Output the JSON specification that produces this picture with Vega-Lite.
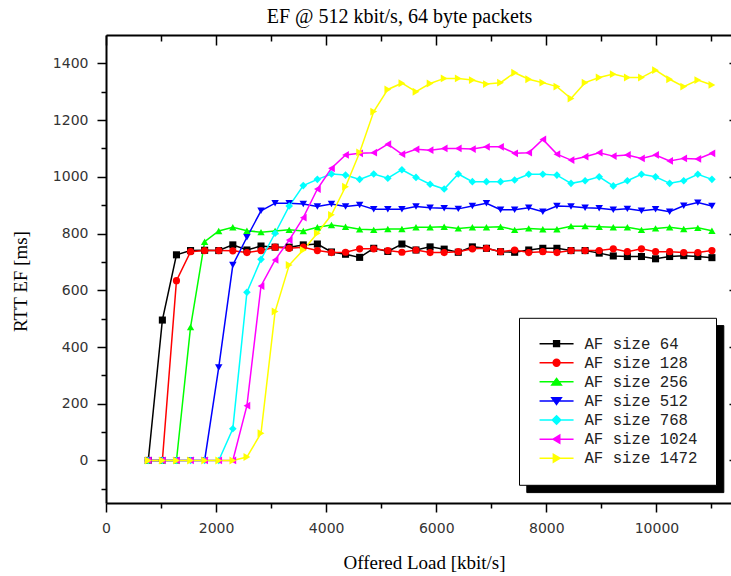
{
  "$schema": "https://vega.github.io/schema/vega-lite/v6.json",
  "width": 633,
  "height": 468,
  "autosize": {"type": "none"},
  "padding": {"left": 106, "top": 35, "right": -8, "bottom": 73},
  "background": "white",
  "title": {
    "text": "EF @ 512 kbit/s, 64 byte packets",
    "font": "Liberation Serif",
    "fontSize": 20,
    "fontWeight": "normal",
    "color": "black",
    "anchor": "middle",
    "dx": -23,
    "dy": 21,
    "offset": 12,
    "baseline": "alphabetic"
  },
  "config": {"view": {"stroke": null}, "axis": {"grid": false}},
  "data": {
    "values": [
      {"series": "AF size 64", "load": 768, "rtt": 0},
      {"series": "AF size 64", "load": 1024, "rtt": 495},
      {"series": "AF size 64", "load": 1280, "rtt": 725},
      {"series": "AF size 64", "load": 1536, "rtt": 740},
      {"series": "AF size 64", "load": 1792, "rtt": 741},
      {"series": "AF size 64", "load": 2048, "rtt": 740},
      {"series": "AF size 64", "load": 2304, "rtt": 760},
      {"series": "AF size 64", "load": 2560, "rtt": 742},
      {"series": "AF size 64", "load": 2816, "rtt": 756},
      {"series": "AF size 64", "load": 3072, "rtt": 752},
      {"series": "AF size 64", "load": 3328, "rtt": 752},
      {"series": "AF size 64", "load": 3584, "rtt": 760},
      {"series": "AF size 64", "load": 3840, "rtt": 763},
      {"series": "AF size 64", "load": 4096, "rtt": 735},
      {"series": "AF size 64", "load": 4352, "rtt": 727},
      {"series": "AF size 64", "load": 4608, "rtt": 716},
      {"series": "AF size 64", "load": 4864, "rtt": 748},
      {"series": "AF size 64", "load": 5120, "rtt": 737},
      {"series": "AF size 64", "load": 5376, "rtt": 763},
      {"series": "AF size 64", "load": 5632, "rtt": 742},
      {"series": "AF size 64", "load": 5888, "rtt": 753},
      {"series": "AF size 64", "load": 6144, "rtt": 745},
      {"series": "AF size 64", "load": 6400, "rtt": 734},
      {"series": "AF size 64", "load": 6656, "rtt": 753},
      {"series": "AF size 64", "load": 6912, "rtt": 748},
      {"series": "AF size 64", "load": 7168, "rtt": 736},
      {"series": "AF size 64", "load": 7424, "rtt": 734},
      {"series": "AF size 64", "load": 7680, "rtt": 742},
      {"series": "AF size 64", "load": 7936, "rtt": 748},
      {"series": "AF size 64", "load": 8192, "rtt": 748},
      {"series": "AF size 64", "load": 8448, "rtt": 740},
      {"series": "AF size 64", "load": 8704, "rtt": 740},
      {"series": "AF size 64", "load": 8960, "rtt": 731},
      {"series": "AF size 64", "load": 9216, "rtt": 721},
      {"series": "AF size 64", "load": 9472, "rtt": 719},
      {"series": "AF size 64", "load": 9728, "rtt": 719},
      {"series": "AF size 64", "load": 9984, "rtt": 711},
      {"series": "AF size 64", "load": 10240, "rtt": 719},
      {"series": "AF size 64", "load": 10496, "rtt": 722},
      {"series": "AF size 64", "load": 10752, "rtt": 719},
      {"series": "AF size 64", "load": 11008, "rtt": 715},

      {"series": "AF size 128", "load": 768, "rtt": 0},
      {"series": "AF size 128", "load": 1024, "rtt": 0},
      {"series": "AF size 128", "load": 1280, "rtt": 634},
      {"series": "AF size 128", "load": 1536, "rtt": 736},
      {"series": "AF size 128", "load": 1792, "rtt": 740},
      {"series": "AF size 128", "load": 2048, "rtt": 740},
      {"series": "AF size 128", "load": 2304, "rtt": 739},
      {"series": "AF size 128", "load": 2560, "rtt": 733},
      {"series": "AF size 128", "load": 2816, "rtt": 740},
      {"series": "AF size 128", "load": 3072, "rtt": 752},
      {"series": "AF size 128", "load": 3328, "rtt": 748},
      {"series": "AF size 128", "load": 3584, "rtt": 752},
      {"series": "AF size 128", "load": 3840, "rtt": 740},
      {"series": "AF size 128", "load": 4096, "rtt": 733},
      {"series": "AF size 128", "load": 4352, "rtt": 734},
      {"series": "AF size 128", "load": 4608, "rtt": 746},
      {"series": "AF size 128", "load": 4864, "rtt": 746},
      {"series": "AF size 128", "load": 5120, "rtt": 740},
      {"series": "AF size 128", "load": 5376, "rtt": 734},
      {"series": "AF size 128", "load": 5632, "rtt": 742},
      {"series": "AF size 128", "load": 5888, "rtt": 733},
      {"series": "AF size 128", "load": 6144, "rtt": 733},
      {"series": "AF size 128", "load": 6400, "rtt": 736},
      {"series": "AF size 128", "load": 6656, "rtt": 746},
      {"series": "AF size 128", "load": 6912, "rtt": 748},
      {"series": "AF size 128", "load": 7168, "rtt": 736},
      {"series": "AF size 128", "load": 7424, "rtt": 742},
      {"series": "AF size 128", "load": 7680, "rtt": 733},
      {"series": "AF size 128", "load": 7936, "rtt": 736},
      {"series": "AF size 128", "load": 8192, "rtt": 733},
      {"series": "AF size 128", "load": 8448, "rtt": 740},
      {"series": "AF size 128", "load": 8704, "rtt": 740},
      {"series": "AF size 128", "load": 8960, "rtt": 740},
      {"series": "AF size 128", "load": 9216, "rtt": 746},
      {"series": "AF size 128", "load": 9472, "rtt": 736},
      {"series": "AF size 128", "load": 9728, "rtt": 746},
      {"series": "AF size 128", "load": 9984, "rtt": 736},
      {"series": "AF size 128", "load": 10240, "rtt": 736},
      {"series": "AF size 128", "load": 10496, "rtt": 733},
      {"series": "AF size 128", "load": 10752, "rtt": 733},
      {"series": "AF size 128", "load": 11008, "rtt": 740},

      {"series": "AF size 256", "load": 768, "rtt": 0},
      {"series": "AF size 256", "load": 1024, "rtt": 0},
      {"series": "AF size 256", "load": 1280, "rtt": 0},
      {"series": "AF size 256", "load": 1536, "rtt": 470},
      {"series": "AF size 256", "load": 1792, "rtt": 771},
      {"series": "AF size 256", "load": 2048, "rtt": 809},
      {"series": "AF size 256", "load": 2304, "rtt": 822},
      {"series": "AF size 256", "load": 2560, "rtt": 810},
      {"series": "AF size 256", "load": 2816, "rtt": 805},
      {"series": "AF size 256", "load": 3072, "rtt": 809},
      {"series": "AF size 256", "load": 3328, "rtt": 813},
      {"series": "AF size 256", "load": 3584, "rtt": 809},
      {"series": "AF size 256", "load": 3840, "rtt": 822},
      {"series": "AF size 256", "load": 4096, "rtt": 830},
      {"series": "AF size 256", "load": 4352, "rtt": 824},
      {"series": "AF size 256", "load": 4608, "rtt": 815},
      {"series": "AF size 256", "load": 4864, "rtt": 813},
      {"series": "AF size 256", "load": 5120, "rtt": 816},
      {"series": "AF size 256", "load": 5376, "rtt": 816},
      {"series": "AF size 256", "load": 5632, "rtt": 822},
      {"series": "AF size 256", "load": 5888, "rtt": 822},
      {"series": "AF size 256", "load": 6144, "rtt": 824},
      {"series": "AF size 256", "load": 6400, "rtt": 818},
      {"series": "AF size 256", "load": 6656, "rtt": 822},
      {"series": "AF size 256", "load": 6912, "rtt": 822},
      {"series": "AF size 256", "load": 7168, "rtt": 824},
      {"series": "AF size 256", "load": 7424, "rtt": 813},
      {"series": "AF size 256", "load": 7680, "rtt": 818},
      {"series": "AF size 256", "load": 7936, "rtt": 815},
      {"series": "AF size 256", "load": 8192, "rtt": 815},
      {"series": "AF size 256", "load": 8448, "rtt": 826},
      {"series": "AF size 256", "load": 8704, "rtt": 826},
      {"series": "AF size 256", "load": 8960, "rtt": 824},
      {"series": "AF size 256", "load": 9216, "rtt": 822},
      {"series": "AF size 256", "load": 9472, "rtt": 822},
      {"series": "AF size 256", "load": 9728, "rtt": 813},
      {"series": "AF size 256", "load": 9984, "rtt": 818},
      {"series": "AF size 256", "load": 10240, "rtt": 822},
      {"series": "AF size 256", "load": 10496, "rtt": 816},
      {"series": "AF size 256", "load": 10752, "rtt": 820},
      {"series": "AF size 256", "load": 11008, "rtt": 810},

      {"series": "AF size 512", "load": 768, "rtt": 0},
      {"series": "AF size 512", "load": 1024, "rtt": 0},
      {"series": "AF size 512", "load": 1280, "rtt": 0},
      {"series": "AF size 512", "load": 1536, "rtt": 0},
      {"series": "AF size 512", "load": 1792, "rtt": 0},
      {"series": "AF size 512", "load": 2048, "rtt": 328},
      {"series": "AF size 512", "load": 2304, "rtt": 689},
      {"series": "AF size 512", "load": 2560, "rtt": 787},
      {"series": "AF size 512", "load": 2816, "rtt": 880},
      {"series": "AF size 512", "load": 3072, "rtt": 907},
      {"series": "AF size 512", "load": 3328, "rtt": 907},
      {"series": "AF size 512", "load": 3584, "rtt": 904},
      {"series": "AF size 512", "load": 3840, "rtt": 895},
      {"series": "AF size 512", "load": 4096, "rtt": 904},
      {"series": "AF size 512", "load": 4352, "rtt": 895},
      {"series": "AF size 512", "load": 4608, "rtt": 901},
      {"series": "AF size 512", "load": 4864, "rtt": 886},
      {"series": "AF size 512", "load": 5120, "rtt": 886},
      {"series": "AF size 512", "load": 5376, "rtt": 886},
      {"series": "AF size 512", "load": 5632, "rtt": 895},
      {"series": "AF size 512", "load": 5888, "rtt": 891},
      {"series": "AF size 512", "load": 6144, "rtt": 889},
      {"series": "AF size 512", "load": 6400, "rtt": 887},
      {"series": "AF size 512", "load": 6656, "rtt": 897},
      {"series": "AF size 512", "load": 6912, "rtt": 907},
      {"series": "AF size 512", "load": 7168, "rtt": 884},
      {"series": "AF size 512", "load": 7424, "rtt": 884},
      {"series": "AF size 512", "load": 7680, "rtt": 891},
      {"series": "AF size 512", "load": 7936, "rtt": 877},
      {"series": "AF size 512", "load": 8192, "rtt": 897},
      {"series": "AF size 512", "load": 8448, "rtt": 895},
      {"series": "AF size 512", "load": 8704, "rtt": 891},
      {"series": "AF size 512", "load": 8960, "rtt": 889},
      {"series": "AF size 512", "load": 9216, "rtt": 884},
      {"series": "AF size 512", "load": 9472, "rtt": 887},
      {"series": "AF size 512", "load": 9728, "rtt": 880},
      {"series": "AF size 512", "load": 9984, "rtt": 886},
      {"series": "AF size 512", "load": 10240, "rtt": 877},
      {"series": "AF size 512", "load": 10496, "rtt": 898},
      {"series": "AF size 512", "load": 10752, "rtt": 909},
      {"series": "AF size 512", "load": 11008, "rtt": 897},

      {"series": "AF size 768", "load": 768, "rtt": 0},
      {"series": "AF size 768", "load": 1024, "rtt": 0},
      {"series": "AF size 768", "load": 1280, "rtt": 0},
      {"series": "AF size 768", "load": 1536, "rtt": 0},
      {"series": "AF size 768", "load": 1792, "rtt": 0},
      {"series": "AF size 768", "load": 2048, "rtt": 0},
      {"series": "AF size 768", "load": 2304, "rtt": 112},
      {"series": "AF size 768", "load": 2560, "rtt": 593},
      {"series": "AF size 768", "load": 2816, "rtt": 709},
      {"series": "AF size 768", "load": 3072, "rtt": 801},
      {"series": "AF size 768", "load": 3328, "rtt": 897},
      {"series": "AF size 768", "load": 3584, "rtt": 969},
      {"series": "AF size 768", "load": 3840, "rtt": 991},
      {"series": "AF size 768", "load": 4096, "rtt": 1010},
      {"series": "AF size 768", "load": 4352, "rtt": 1006},
      {"series": "AF size 768", "load": 4608, "rtt": 991},
      {"series": "AF size 768", "load": 4864, "rtt": 1010},
      {"series": "AF size 768", "load": 5120, "rtt": 995},
      {"series": "AF size 768", "load": 5376, "rtt": 1025},
      {"series": "AF size 768", "load": 5632, "rtt": 998},
      {"series": "AF size 768", "load": 5888, "rtt": 974},
      {"series": "AF size 768", "load": 6144, "rtt": 957},
      {"series": "AF size 768", "load": 6400, "rtt": 1010},
      {"series": "AF size 768", "load": 6656, "rtt": 983},
      {"series": "AF size 768", "load": 6912, "rtt": 983},
      {"series": "AF size 768", "load": 7168, "rtt": 983},
      {"series": "AF size 768", "load": 7424, "rtt": 989},
      {"series": "AF size 768", "load": 7680, "rtt": 1009},
      {"series": "AF size 768", "load": 7936, "rtt": 1009},
      {"series": "AF size 768", "load": 8192, "rtt": 1006},
      {"series": "AF size 768", "load": 8448, "rtt": 977},
      {"series": "AF size 768", "load": 8704, "rtt": 986},
      {"series": "AF size 768", "load": 8960, "rtt": 1000},
      {"series": "AF size 768", "load": 9216, "rtt": 968},
      {"series": "AF size 768", "load": 9472, "rtt": 986},
      {"series": "AF size 768", "load": 9728, "rtt": 1009},
      {"series": "AF size 768", "load": 9984, "rtt": 1000},
      {"series": "AF size 768", "load": 10240, "rtt": 977},
      {"series": "AF size 768", "load": 10496, "rtt": 986},
      {"series": "AF size 768", "load": 10752, "rtt": 1009},
      {"series": "AF size 768", "load": 11008, "rtt": 991},

      {"series": "AF size 1024", "load": 768, "rtt": 0},
      {"series": "AF size 1024", "load": 1024, "rtt": 0},
      {"series": "AF size 1024", "load": 1280, "rtt": 0},
      {"series": "AF size 1024", "load": 1536, "rtt": 0},
      {"series": "AF size 1024", "load": 1792, "rtt": 0},
      {"series": "AF size 1024", "load": 2048, "rtt": 0},
      {"series": "AF size 1024", "load": 2304, "rtt": 0},
      {"series": "AF size 1024", "load": 2560, "rtt": 193},
      {"series": "AF size 1024", "load": 2816, "rtt": 615},
      {"series": "AF size 1024", "load": 3072, "rtt": 707},
      {"series": "AF size 1024", "load": 3328, "rtt": 777},
      {"series": "AF size 1024", "load": 3584, "rtt": 856},
      {"series": "AF size 1024", "load": 3840, "rtt": 957},
      {"series": "AF size 1024", "load": 4096, "rtt": 1030},
      {"series": "AF size 1024", "load": 4352, "rtt": 1077},
      {"series": "AF size 1024", "load": 4608, "rtt": 1083},
      {"series": "AF size 1024", "load": 4864, "rtt": 1085},
      {"series": "AF size 1024", "load": 5120, "rtt": 1115},
      {"series": "AF size 1024", "load": 5376, "rtt": 1080},
      {"series": "AF size 1024", "load": 5632, "rtt": 1097},
      {"series": "AF size 1024", "load": 5888, "rtt": 1094},
      {"series": "AF size 1024", "load": 6144, "rtt": 1100},
      {"series": "AF size 1024", "load": 6400, "rtt": 1100},
      {"series": "AF size 1024", "load": 6656, "rtt": 1098},
      {"series": "AF size 1024", "load": 6912, "rtt": 1106},
      {"series": "AF size 1024", "load": 7168, "rtt": 1106},
      {"series": "AF size 1024", "load": 7424, "rtt": 1083},
      {"series": "AF size 1024", "load": 7680, "rtt": 1085},
      {"series": "AF size 1024", "load": 7936, "rtt": 1132},
      {"series": "AF size 1024", "load": 8192, "rtt": 1080},
      {"series": "AF size 1024", "load": 8448, "rtt": 1059},
      {"series": "AF size 1024", "load": 8704, "rtt": 1071},
      {"series": "AF size 1024", "load": 8960, "rtt": 1085},
      {"series": "AF size 1024", "load": 9216, "rtt": 1073},
      {"series": "AF size 1024", "load": 9472, "rtt": 1077},
      {"series": "AF size 1024", "load": 9728, "rtt": 1065},
      {"series": "AF size 1024", "load": 9984, "rtt": 1077},
      {"series": "AF size 1024", "load": 10240, "rtt": 1056},
      {"series": "AF size 1024", "load": 10496, "rtt": 1065},
      {"series": "AF size 1024", "load": 10752, "rtt": 1063},
      {"series": "AF size 1024", "load": 11008, "rtt": 1083},

      {"series": "AF size 1472", "load": 768, "rtt": 0},
      {"series": "AF size 1472", "load": 1024, "rtt": 0},
      {"series": "AF size 1472", "load": 1280, "rtt": 0},
      {"series": "AF size 1472", "load": 1536, "rtt": 0},
      {"series": "AF size 1472", "load": 1792, "rtt": 0},
      {"series": "AF size 1472", "load": 2048, "rtt": 0},
      {"series": "AF size 1472", "load": 2304, "rtt": 0},
      {"series": "AF size 1472", "load": 2560, "rtt": 12},
      {"series": "AF size 1472", "load": 2816, "rtt": 96},
      {"series": "AF size 1472", "load": 3072, "rtt": 525},
      {"series": "AF size 1472", "load": 3328, "rtt": 689},
      {"series": "AF size 1472", "load": 3584, "rtt": 742},
      {"series": "AF size 1472", "load": 3840, "rtt": 801},
      {"series": "AF size 1472", "load": 4096, "rtt": 866},
      {"series": "AF size 1472", "load": 4352, "rtt": 965},
      {"series": "AF size 1472", "load": 4608, "rtt": 1086},
      {"series": "AF size 1472", "load": 4864, "rtt": 1230},
      {"series": "AF size 1472", "load": 5120, "rtt": 1308},
      {"series": "AF size 1472", "load": 5376, "rtt": 1330},
      {"series": "AF size 1472", "load": 5632, "rtt": 1300},
      {"series": "AF size 1472", "load": 5888, "rtt": 1329},
      {"series": "AF size 1472", "load": 6144, "rtt": 1347},
      {"series": "AF size 1472", "load": 6400, "rtt": 1347},
      {"series": "AF size 1472", "load": 6656, "rtt": 1341},
      {"series": "AF size 1472", "load": 6912, "rtt": 1327},
      {"series": "AF size 1472", "load": 7168, "rtt": 1332},
      {"series": "AF size 1472", "load": 7424, "rtt": 1367},
      {"series": "AF size 1472", "load": 7680, "rtt": 1344},
      {"series": "AF size 1472", "load": 7936, "rtt": 1332},
      {"series": "AF size 1472", "load": 8192, "rtt": 1318},
      {"series": "AF size 1472", "load": 8448, "rtt": 1276},
      {"series": "AF size 1472", "load": 8704, "rtt": 1332},
      {"series": "AF size 1472", "load": 8960, "rtt": 1350},
      {"series": "AF size 1472", "load": 9216, "rtt": 1362},
      {"series": "AF size 1472", "load": 9472, "rtt": 1350},
      {"series": "AF size 1472", "load": 9728, "rtt": 1350},
      {"series": "AF size 1472", "load": 9984, "rtt": 1376},
      {"series": "AF size 1472", "load": 10240, "rtt": 1344},
      {"series": "AF size 1472", "load": 10496, "rtt": 1318},
      {"series": "AF size 1472", "load": 10752, "rtt": 1341},
      {"series": "AF size 1472", "load": 11008, "rtt": 1324}
    ]
  },
  "layer": [
    {
      "mark": {"type": "line", "strokeWidth": 1.5},
      "encoding": {
        "x": {
          "field": "load", "type": "quantitative",
          "scale": {"domain": [0, 11500], "nice": false, "zero": false},
          "axis": {
            "orient": "bottom",
            "values": [0, 1000, 2000, 3000, 4000, 5000, 6000, 7000, 8000, 9000, 10000, 11000],
            "format": "d",
            "labelExpr": "datum.value % 2000 === 0 ? datum.label : ''",
            "labelFont": "DejaVu Sans", "labelFontSize": 14, "labelColor": "#333333",
            "labelPadding": 9, "labelOverlap": false, "labelFlush": false,
            "tickSize": {"condition": {"test": "datum.value % 2000 === 0", "value": 9}, "value": 5},
            "tickWidth": 1.5, "tickColor": "black",
            "domainColor": "black", "domainWidth": 2,
            "title": "Offered Load [kbit/s]",
            "titleFont": "Liberation Serif", "titleFontSize": 19, "titleFontWeight": "normal",
            "titleColor": "black", "titleX": 318, "titleY": 65,
            "titleBaseline": "alphabetic", "titleAlign": "center"
          }
        },
        "y": {
          "field": "rtt", "type": "quantitative",
          "scale": {"domain": [-150, 1500], "nice": false, "zero": false},
          "axis": {
            "orient": "left",
            "values": [-100, 0, 100, 200, 300, 400, 500, 600, 700, 800, 900, 1000, 1100, 1200, 1300, 1400],
            "format": "d",
            "labelExpr": "datum.value >= 0 && datum.value % 200 === 0 ? datum.label : ''",
            "labelFont": "DejaVu Sans", "labelFontSize": 14, "labelColor": "#333333",
            "labelPadding": 9, "labelOverlap": false, "labelFlush": false,
            "tickSize": {"condition": {"test": "datum.value % 200 === 0", "value": 9}, "value": 5},
            "tickWidth": 1.5, "tickColor": "black",
            "domainColor": "black", "domainWidth": 2,
            "title": "RTT EF [ms]",
            "titleFont": "Liberation Serif", "titleFontSize": 19, "titleFontWeight": "normal",
            "titleColor": "black", "titleAngle": -90, "titleX": -80, "titleY": 246,
            "titleBaseline": "alphabetic", "titleAlign": "center"
          }
        },
        "color": {
          "field": "series", "type": "nominal",
          "scale": {
            "domain": ["AF size 64", "AF size 128", "AF size 256", "AF size 512", "AF size 768", "AF size 1024", "AF size 1472"],
            "range": ["#000000", "#ff0000", "#00ff00", "#0000ff", "#00ffff", "#ff00ff", "#ffff00"]
          },
          "legend": null
        }
      }
    },
    {
      "mark": {"type": "point", "filled": true, "opacity": 1, "strokeWidth": 0},
      "encoding": {
        "x": {
          "field": "load", "type": "quantitative",
          "scale": {"domain": [0, 11500], "nice": false, "zero": false},
          "axis": {
            "orient": "top",
            "values": [0, 1000, 2000, 3000, 4000, 5000, 6000, 7000, 8000, 9000, 10000, 11000],
            "labels": false,
            "tickSize": {"condition": {"test": "datum.value % 2000 === 0", "value": -10}, "value": -6},
            "tickWidth": 1.5, "tickColor": "black",
            "domainColor": "black", "domainWidth": 2,
            "title": null
          }
        },
        "y": {
          "field": "rtt", "type": "quantitative",
          "scale": {"domain": [-150, 1500], "nice": false, "zero": false},
          "axis": {
            "orient": "right",
            "values": [-100, 0, 100, 200, 300, 400, 500, 600, 700, 800, 900, 1000, 1100, 1200, 1300, 1400],
            "labels": false,
            "tickSize": {"condition": {"test": "datum.value % 200 === 0", "value": -10}, "value": -6},
            "tickWidth": 1.5, "tickColor": "black",
            "domainColor": "black", "domainWidth": 2,
            "title": null
          }
        },
        "color": {
          "field": "series", "type": "nominal",
          "scale": {
            "domain": ["AF size 64", "AF size 128", "AF size 256", "AF size 512", "AF size 768", "AF size 1024", "AF size 1472"],
            "range": ["#000000", "#ff0000", "#00ff00", "#0000ff", "#00ffff", "#ff00ff", "#ffff00"]
          },
          "legend": null
        },
        "shape": {
          "field": "series", "type": "nominal",
          "scale": {
            "domain": ["AF size 64", "AF size 128", "AF size 256", "AF size 512", "AF size 768", "AF size 1024", "AF size 1472"],
            "range": ["square", "circle", "triangle-up", "triangle-down", "diamond", "triangle-left", "triangle-right"]
          },
          "legend": null
        },
        "size": {
          "field": "series", "type": "nominal",
          "scale": {
            "domain": ["AF size 64", "AF size 128", "AF size 256", "AF size 512", "AF size 768", "AF size 1024", "AF size 1472"],
            "range": [50, 62, 88, 88, 90, 88, 88]
          },
          "legend": null
        }
      }
    },
    {
      "transform": [{"filter": "false"}],
      "mark": {"type": "point", "filled": true, "opacity": 1, "strokeWidth": 1.5},
      "encoding": {
        "x": {"field": "load", "type": "quantitative", "scale": {"domain": [0, 11500], "nice": false, "zero": false}, "axis": null},
        "y": {"field": "rtt", "type": "quantitative", "scale": {"domain": [-150, 1500], "nice": false, "zero": false}, "axis": null},
        "fill": {
          "field": "series", "type": "nominal",
          "scale": {
            "domain": ["AF size 64", "AF size 128", "AF size 256", "AF size 512", "AF size 768", "AF size 1024", "AF size 1472"],
            "range": ["#000000", "#ff0000", "#00ff00", "#0000ff", "#00ffff", "#ff00ff", "#ffff00"]
          },
          "legend": {
            "title": null,
            "orient": "none",
            "legendX": 413,
            "legendY": 282.8,
            "zindex": 1,
            "fillColor": "white",
            "strokeColor": "black",
            "padding": 18,
            "rowPadding": 2.1,
            "symbolSize": 64,
            "symbolOffset": 11.7,
            "symbolStrokeWidth": 1.5,
            "symbolOpacity": 1,
            "labelOffset": 20,
            "labelFont": "Liberation Mono",
            "labelFontSize": 15.7,
            "labelColor": "#222222"
          }
        },
        "stroke": {
          "field": "series", "type": "nominal",
          "scale": {
            "domain": ["AF size 64", "AF size 128", "AF size 256", "AF size 512", "AF size 768", "AF size 1024", "AF size 1472"],
            "range": ["#000000", "#ff0000", "#00ff00", "#0000ff", "#00ffff", "#ff00ff", "#ffff00"]
          },
          "legend": {
            "title": null,
            "orient": "none",
            "legendX": 413,
            "legendY": 282.8,
            "zindex": 1,
            "symbolOpacity": 1
          }
        },
        "shape": {
          "field": "series", "type": "nominal",
          "scale": {
            "domain": ["AF size 64", "AF size 128", "AF size 256", "AF size 512", "AF size 768", "AF size 1024", "AF size 1472"],
            "range": [
              "M-4.25,0H4.25M-0.73,-0.73H0.73V0.73H-0.73Z",
              "M-4.25,0H4.25M-0.85,0A0.85,0.85,0,1,1,0.85,0A0.85,0.85,0,1,1,-0.85,0Z",
              "M-4.25,0H4.25M0,-0.85L1.19,0.8L-1.19,0.8Z",
              "M-4.25,0H4.25M0,0.85L1.19,-0.8L-1.19,-0.8Z",
              "M-4.25,0H4.25M0,-1.06L1.06,0L0,1.06L-1.06,0Z",
              "M-4.25,0H4.25M-0.85,0L0.8,-1.0L0.8,1.0Z",
              "M-4.25,0H4.25M0.85,0L-0.8,-1.0L-0.8,1.0Z"
            ]
          },
          "legend": {
            "title": null,
            "orient": "none",
            "legendX": 413,
            "legendY": 282.8,
            "zindex": 1,
            "symbolOpacity": 1
          }
        }
      }
    },
    {
      "transform": [{"filter": "false"}],
      "mark": {"type": "point"},
      "encoding": {
        "x": {"field": "load", "type": "quantitative", "scale": {"domain": [0, 11500], "nice": false, "zero": false}, "axis": null},
        "y": {"field": "rtt", "type": "quantitative", "scale": {"domain": [-150, 1500], "nice": false, "zero": false}, "axis": null},
        "color": {
          "field": "series", "type": "nominal",
          "scale": {
            "domain": ["AF size 64", "AF size 128", "AF size 256", "AF size 512", "AF size 768", "AF size 1024", "AF size 1472"],
            "range": ["black", "black", "black", "black", "black", "black", "black"]
          },
          "legend": {
            "title": null,
            "orient": "none",
            "legendX": 420.3,
            "legendY": 290.1,
            "zindex": 0,
            "fillColor": "black",
            "strokeColor": "black",
            "padding": 18,
            "rowPadding": 2.1,
            "symbolSize": 64,
            "symbolOffset": 11.7,
            "symbolStrokeWidth": 1.5,
            "labelOffset": 20,
            "labelFont": "Liberation Mono",
            "labelFontSize": 15.7,
            "labelColor": "black",
            "labelOpacity": 0,
            "symbolOpacity": 0
          }
        }
      }
    }
  ],
  "resolve": {
    "scale": {"color": "independent", "shape": "independent"},
    "axis": {"x": "independent", "y": "independent"},
    "legend": {"color": "independent", "shape": "independent", "fill": "independent", "stroke": "independent"}
  }
}
